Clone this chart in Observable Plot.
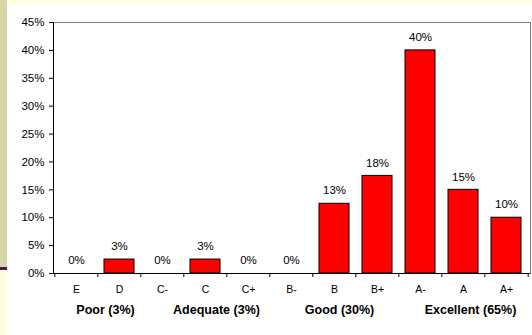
<!DOCTYPE html>
<html>
<head>
<meta charset="utf-8">
<script src="https://cdn.jsdelivr.net/npm/d3@7"></script>
<script src="https://cdn.jsdelivr.net/npm/@observablehq/plot@0.6"></script>
<style>
  html, body { margin: 0; padding: 0; background: #fff; }
  #wrap { position: relative; width: 532px; height: 335px; overflow: hidden; background: #fff; }
  .edge { position: absolute; }
  #chart { position: absolute; left: 0; top: 0; }
</style>
</head>
<body>
<div id="wrap">
  <div class="edge" style="left:0;top:0;width:532px;height:4px;background:#FFFFE0"></div>
  <div class="edge" style="left:0;top:0;width:7px;height:267px;background:#D7D7A5"></div>
  <div class="edge" style="left:0;top:267px;width:7px;height:3px;background:#4A1B4C"></div>
  <div class="edge" style="left:0;top:270px;width:7px;height:65px;background:#FFFFE0"></div>
  <div id="chart"></div>
</div>
<script>
// Grade distribution (percent of students per grade)
const grades = ["E", "D", "C-", "C", "C+", "B-", "B", "B+", "A-", "A", "A+"];
const shares = [0, 2.5, 0, 2.5, 0, 0, 12.5, 17.5, 40, 15, 10];

// Grade bands shown under the axis
const groupNames = ["Poor", "Adequate", "Good", "Excellent"];
const groupMembers = [["E", "D"], ["C-", "C", "C+"], ["B-", "B", "B+"], ["A-", "A", "A+"]];
const groupAnchors = ["D", "C", "B", "A"];

const yTicks = [0, 5, 10, 15, 20, 25, 30, 35, 40, 45];

// Layout
const W = 532, H = 335;
const mL = 53, mR = 2, mT = 22, mB = 62;
const innerH = H - mT - mB;
const step = (W - mL - mR) / grades.length;
const groupShift = [-14, 11, 5, 7];
const font = "'Liberation Sans', Arial, Helvetica, sans-serif";

const rows = grades.map((g, i) => ({grade: g, share: shares[i]}));
const shareOf = Object.fromEntries(rows.map(d => [d.grade, d.share]));
const groups = groupNames.map((name, i) => ({
  anchor: groupAnchors[i],
  label: `${name} (${Math.round(d3.sum(groupMembers[i], g => shareOf[g]))}%)`
}));

const pct = v => Math.round(v) + "%";

const chart = Plot.plot({
  width: W,
  height: H,
  marginLeft: mL,
  marginRight: mR,
  marginTop: mT,
  marginBottom: mB,
  style: {fontFamily: font, fontSize: "11px", color: "#000", background: "transparent", overflow: "visible"},
  x: {type: "band", domain: grades, paddingInner: 0.3, paddingOuter: 0.15, axis: null},
  y: {domain: [0, 45], axis: null},
  marks: [
    Plot.frame({stroke: "#808080"}),
    Plot.barY(rows, {x: "grade", y: "share", fill: "#FF0000", stroke: "#000", strokeWidth: 1}),
    Plot.text(rows, {x: "grade", y: "share", text: d => pct(d.share), dy: -13, fontSize: 11.5, fill: "#000"}),
    Plot.axisY({ticks: yTicks, tickFormat: d => d + "%", tickSize: 4, tickPadding: 5, stroke: "#000", fill: "#000", fontSize: 11.5, label: null}),
    Plot.frame({anchor: "left", stroke: "#000"}),
    Plot.ruleY([0], {stroke: "#000"}),
    // category separators below the baseline
    Plot.ruleX(grades, {x: d => d, dx: -step / 2, insetTop: innerH, insetBottom: -4, stroke: "#000"}),
    Plot.ruleX(grades.slice(-1), {x: d => d, dx: step / 2, insetTop: innerH, insetBottom: -4, stroke: "#000"}),
    Plot.text(grades, {x: d => d, frameAnchor: "bottom", dy: 19, fontSize: 10.5, fill: "#000"}),
    ...groups.map((g, i) => Plot.text([g], {
      x: "anchor", text: "label", frameAnchor: "bottom", dy: 40, dx: groupShift[i],
      fontSize: 12.5, fontWeight: "bold", fill: "#000"
    }))
  ]
});

document.getElementById("chart").appendChild(chart);
</script>
</body>
</html>
